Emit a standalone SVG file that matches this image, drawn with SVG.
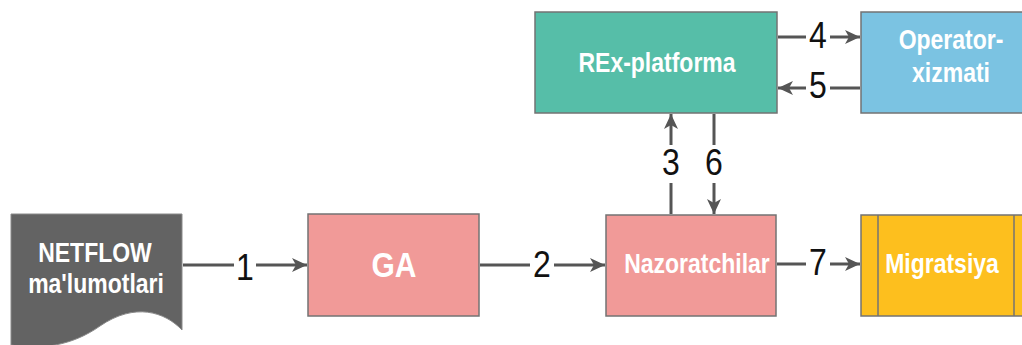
<svg xmlns="http://www.w3.org/2000/svg" width="1022" height="345" viewBox="0 0 1022 345">
<defs>
<style>
.box{stroke:#737373;stroke-width:1.5}
.t{font-family:"Liberation Sans",Arial,sans-serif;font-weight:bold;font-size:23px;fill:#fff;text-anchor:middle}
.ln{stroke:#555;stroke-width:3;fill:none}
.lb{font-family:"Liberation Sans",Arial,sans-serif;font-size:32px;fill:#111;text-anchor:middle}
.bg{fill:#fff}
</style>
<marker id="ah" markerUnits="userSpaceOnUse" markerWidth="16" markerHeight="16" viewBox="0 0 16 16" refX="15" refY="8" orient="auto">
<path d="M0,1 L15,8 L0,15 L4,8 Z" fill="#555"/>
</marker>
</defs>
<g id="connectors">
<line class="ln" x1="183" y1="265" x2="307" y2="265" marker-end="url(#ah)"/>
<rect class="bg" x="234" y="248" width="22" height="34"/>
<text class="lb" transform="translate(245,280) scale(1,1.15)">1</text>
<line class="ln" x1="480" y1="265" x2="605" y2="265" marker-end="url(#ah)"/>
<rect class="bg" x="530" y="248" width="24" height="34"/>
<text class="lb" transform="translate(542,277) scale(1,1.15)">2</text>
<line class="ln" x1="777" y1="264" x2="860" y2="264" marker-end="url(#ah)"/>
<rect class="bg" x="806" y="247" width="24" height="34"/>
<text class="lb" transform="translate(818,275) scale(1,1.15)">7</text>
<line class="ln" x1="778" y1="37" x2="860" y2="37" marker-end="url(#ah)"/>
<rect class="bg" x="806" y="24" width="24" height="27"/>
<text class="lb" transform="translate(818,48) scale(1,1.15)">4</text>
<line class="ln" x1="860" y1="88" x2="778" y2="88" marker-end="url(#ah)"/>
<rect class="bg" x="806" y="74" width="24" height="27"/>
<text class="lb" transform="translate(818,98) scale(1,1.15)">5</text>
<line class="ln" x1="671" y1="214" x2="671" y2="114" marker-end="url(#ah)"/>
<line class="ln" x1="714" y1="114" x2="714" y2="214" marker-end="url(#ah)"/>
<rect class="bg" x="658" y="145" width="26" height="38"/>
<rect class="bg" x="701" y="145" width="26" height="38"/>
<text class="lb" transform="translate(671,175) scale(1,1.15)">3</text>
<text class="lb" transform="translate(714,175) scale(1,1.15)">6</text>
</g>
<g id="netflow">
<path d="M11,214 H182 V330 C165,312 135,302 100,326 C72,346 40,350 11,345 Z" fill="#636363" stroke="#8a8a8a" stroke-width="1"/>
<text class="t" transform="translate(95,262) scale(1,1.18)">NETFLOW</text>
<text class="t" transform="translate(96,293) scale(1,1.18)">ma'lumotlari</text>
</g>
<g id="ga">
<rect class="box" x="308" y="214" width="171" height="102" fill="#f19a98"/>
<text class="t" style="font-size:30px" transform="translate(394,277) scale(1,1.17)">GA</text>
</g>
<g id="nazoratchilar">
<rect class="box" x="606" y="215" width="170" height="101" fill="#f19a98"/>
<text class="t" transform="translate(697,273) scale(1,1.18)">Nazoratchilar</text>
</g>
<g id="migratsiya">
<rect class="box" x="861" y="215" width="171" height="101" fill="#fdbf1e"/>
<line x1="878" y1="215" x2="878" y2="316" stroke="#737373" stroke-width="1.5"/>
<line x1="1014" y1="215" x2="1014" y2="316" stroke="#737373" stroke-width="1.5"/>
<text class="t" transform="translate(942,273) scale(1,1.18)">Migratsiya</text>
</g>
<g id="rex">
<rect class="box" x="535" y="12" width="242" height="101" fill="#56bea8"/>
<text class="t" transform="translate(657,72) scale(1,1.18)">REx-platforma</text>
</g>
<g id="operator">
<rect class="box" x="861" y="12" width="180" height="101" fill="#7bc3e2"/>
<text class="t" transform="translate(951,49) scale(1,1.18)">Operator-</text>
<text class="t" transform="translate(951,82) scale(1,1.18)">xizmati</text>
</g>
</svg>
